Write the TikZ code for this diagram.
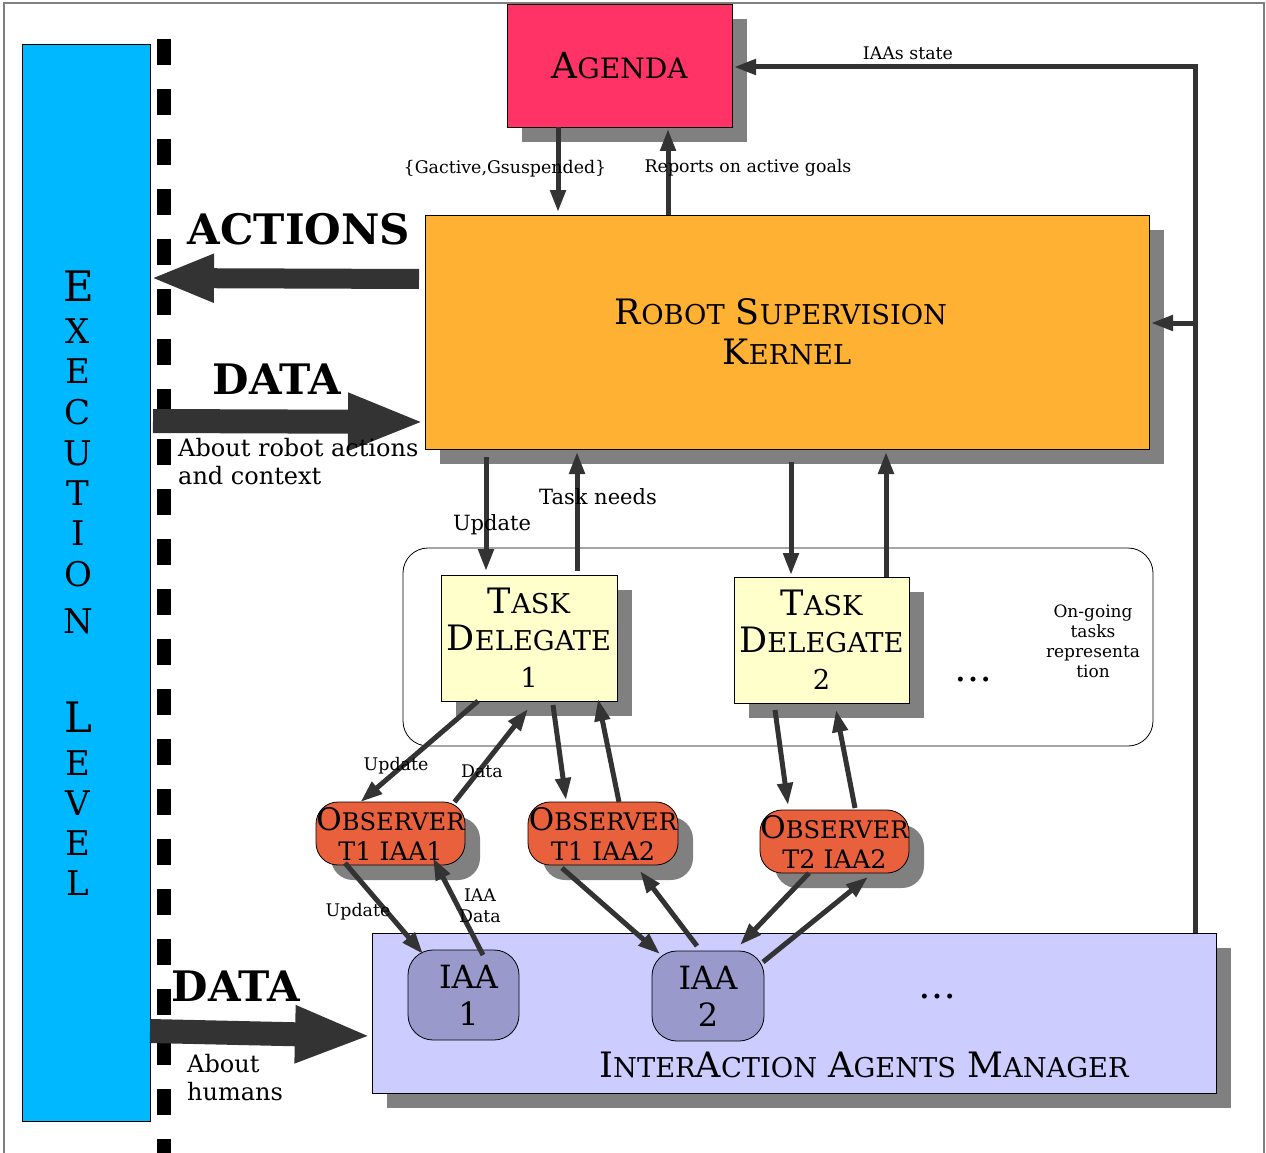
\documentclass[tikz,border=0pt]{standalone}
\usepackage{graphicx}
\usepackage{fontspec}
\setmainfont{DejaVu Serif}
\usetikzlibrary{arrows.meta,shadows}

\definecolor{agendared}{RGB}{255,51,102}
\definecolor{kernelorange}{RGB}{255,177,51}
\definecolor{execblue}{RGB}{0,184,255}
\definecolor{taskyellow}{RGB}{255,255,204}
\definecolor{obsred}{RGB}{233,97,60}
\definecolor{iamblue}{RGB}{204,204,255}
\definecolor{iaablue}{RGB}{153,153,204}
\definecolor{darkline}{RGB}{51,51,51}
\definecolor{shadowgray}{RGB}{128,128,128}

\newcommand{\smallcap}[2]{#1\scalebox{0.78}{#2}}

\tikzset{
  block/.style={draw=black, line width=0.8pt, inner sep=0pt, outer sep=0pt, align=center},
  shadowed/.style={drop shadow={shadow xshift=15pt, shadow yshift=-15pt, fill=shadowgray, opacity=1}},
  flowarrow/.style={draw=darkline, line width=5pt, -{Triangle[length=22pt,width=15pt]}},
  widearrow/.style={draw=darkline, line width=20pt, -{Triangle[length=64pt,width=44pt]}},
  widerarrow/.style={draw=darkline, line width=24pt, -{Triangle[length=77pt,width=52pt]}},
  smallnote/.style={font=\fontsize{17.4}{21}\selectfont, inner sep=0pt, align=center},
  midnote/.style={font=\fontsize{21}{25}\selectfont, inner sep=0pt},
  bignote/.style={font=\fontsize{24}{28}\selectfont, inner sep=0pt, align=left},
  headword/.style={font=\bfseries\fontsize{42}{46}\selectfont, inner sep=0pt},
  execletter/.style={font=\fontsize{34}{34}\selectfont, inner sep=0pt},
}

\begin{document}
\begin{tikzpicture}[x=1pt,y=-1pt]
\useasboundingbox (0,0) rectangle (1266,1153);

% frame and execution level
\draw[shadowgray, line width=1.5pt] (4,1170) -- (4,3) -- (1264,3) -- (1264,1170);
\draw[black, line width=14pt, dash pattern=on 26pt off 24pt] (164,39) -- (164,1160);
\node[block, fill=execblue, minimum width=128pt, minimum height=1077pt] (exec) at (86,582.5) {};
\node[execletter, font=\fontsize{42}{42}\selectfont] (lfirst) at (79,286) {E};
\node[execletter, font=\fontsize{42}{42}\selectfont] (lsecond) at (78,717) {L};
\foreach \ch/\yy [count=\i] in {X/331, E/371, C/412, U/453, T/493, I/533, O/574, N/621, E/763, V/803, E/843, L/883}
  \node[execletter] (letter\i) at (78,\yy) {\ch};

% boxes
\node[block, shadowed, fill=agendared, minimum width=225pt, minimum height=123pt,
  font=\fontsize{36}{40}\selectfont] (agenda) at (619.5,65.5) {\smallcap{A}{GENDA}};
\node[block, shadowed, fill=kernelorange, minimum width=724pt, minimum height=234pt,
  font=\fontsize{35}{40}\selectfont] (rsk) at (787,332)
  {\smallcap{R}{OBOT} \smallcap{S}{UPERVISION}\hspace*{12pt}\\\smallcap{K}{ERNEL}};
\node[draw=black, line width=0.8pt, rounded corners=25pt, minimum width=750pt, minimum height=198pt] (ongoing) at (778,647) {};
\node[block, shadowed, fill=taskyellow, minimum width=176pt, minimum height=126pt,
  font=\fontsize{35}{37}\selectfont] (td1) at (529,638) {\smallcap{T}{ASK}\\\smallcap{D}{ELEGATE}\\\scalebox{0.78}{1}};
\node[block, shadowed, fill=taskyellow, minimum width=175pt, minimum height=126pt,
  font=\fontsize{35}{37}\selectfont] (td2) at (821.5,640) {\smallcap{T}{ASK}\\\smallcap{D}{ELEGATE}\\\scalebox{0.78}{2}};
\node[font=\fontsize{38}{38}\selectfont, inner sep=0pt] (tddots) at (973,680) {\ldots};
\node[smallnote, font=\fontsize{17}{20}\selectfont] (ongoingnote) at (1093,641) {On-going\\tasks\\representa\\tion};

\node[block, shadowed, fill=obsred, rounded corners=22pt, minimum width=149pt, minimum height=63pt,
  font=\fontsize{31}{30}\selectfont] (obs1) at (390.5,833.5) {\smallcap{O}{BSERVER}\\\scalebox{0.82}{T1 IAA1}};
\node[block, shadowed, fill=obsred, rounded corners=22pt, minimum width=150pt, minimum height=63pt,
  font=\fontsize{31}{30}\selectfont] (obs2) at (603,833.5) {\smallcap{O}{BSERVER}\\\scalebox{0.82}{T1 IAA2}};
\node[block, shadowed, fill=obsred, rounded corners=22pt, minimum width=149pt, minimum height=63pt,
  font=\fontsize{31}{30}\selectfont] (obs3) at (834.5,841.5) {\smallcap{O}{BSERVER}\\\scalebox{0.82}{T2 IAA2}};

\node[block, shadowed, fill=iamblue, minimum width=844pt, minimum height=160pt] (iam) at (794,1013) {};
\node[block, fill=iaablue, rounded corners=25pt, minimum width=111pt, minimum height=90pt,
  font=\fontsize{32}{37}\selectfont] (iaa1) at (463.5,995) {\hspace*{10pt}IAA\\\hspace*{10pt}1};
\node[block, fill=iaablue, rounded corners=25pt, minimum width=112pt, minimum height=90pt,
  font=\fontsize{32}{37}\selectfont] (iaa2) at (708,996) {IAA\\2};
\node[font=\fontsize{38}{38}\selectfont, inner sep=0pt] (iamdots) at (937,997) {\ldots};
\node[font=\fontsize{35}{40}\selectfont, inner sep=0pt] (iamtitle) at (864,1065)
  {\smallcap{I}{NTER}\smallcap{A}{CTION} \smallcap{A}{GENTS} \smallcap{M}{ANAGER}};

% wide arrows to and from the execution level
\path[widearrow] ([xshift=-6pt]rsk.west |- 0,279) -- (exec.east |- 0,278);
\path[widerarrow] ([xshift=3pt]exec.east |- 0,421) -- (rsk.west |- 0,422);
\path[widerarrow] (exec.east |- 0,1031) -- (iam.west |- 0,1036);
\node[headword] (actions) at (299,229) {ACTIONS};
\node[headword] (dataup) at (277,379) {DATA};
\node[headword] (datalow) at (236,986) {DATA};
\node[bignote, anchor=west] (aboutrobot) at (178,462) {About robot actions\\and context};
\node[bignote, anchor=west] (abouthumans) at (187,1078) {About\\humans};

% agenda links
\path[flowarrow] (agenda.south -| 558,0) -- ([yshift=3pt]rsk.north -| 558,0);
\path[flowarrow] (rsk.north -| 668,0) -- ([yshift=-2pt]agenda.south -| 668,0);
\path[flowarrow] (iam.north -| 1195,0) |- ([xshift=2pt]agenda.east |- 0,67);
\coordinate (split) at (1195,323);
\path[flowarrow] (split) -- ([xshift=2pt]rsk.east |- split);
\node[smallnote] (goalset) at (505,169) {\{Gactive,Gsuspended\}};
\node[smallnote] (reports) at (748,168) {Reports on active goals};
\node[smallnote] (iaastate) at (908,53) {IAAs state};

% kernel and task delegates
\path[flowarrow] ([yshift=-8pt]rsk.south -| 486,0) -- ([yshift=4pt]td1.north -| 486,0);
\path[flowarrow] ([yshift=4pt]td1.north -| 577,0) -- ([yshift=-3pt]rsk.south -| 577,0);
\path[flowarrow] ([yshift=-13pt]rsk.south -| 791,0) -- ([yshift=2pt]td2.north -| 791,0);
\path[flowarrow] (td2.north -| 886,0) -- ([yshift=-3pt]rsk.south -| 886,0);
\node[midnote] (upkernel) at (492,525) {Update};
\node[midnote] (taskneeds) at (598,497) {Task needs};

% task delegates and observers
\path[flowarrow] ([xshift=-51pt]td1.south) -- ([xshift=-30pt]obs1.north);
\path[flowarrow] ([xshift=64pt]obs1.north) -- ([yshift=-8pt]td1.south -| 528,0);
\path[flowarrow] ([yshift=-4pt]td1.south -| 553,0) -- ([yshift=2pt]obs2.north -| 566,0);
\path[flowarrow] (obs2.north -| 619,0) -- ([yshift=2pt]td1.south -| 598,0);
\path[flowarrow] ([yshift=-7pt]td2.south -| 775,0) -- ([yshift=5pt]obs3.north -| 788,0);
\path[flowarrow] ([yshift=2pt]obs3.north -| 855,0) -- ([yshift=-7pt]td2.south -| 836,0);
\node[smallnote] (updateobs) at (396,766) {Update};
\node[smallnote] (dataobs) at (482,771) {Data};

% observers and interaction agents
\path[flowarrow] ([yshift=2pt]obs1.south -| 345,0) -- ([yshift=-4pt]iaa1.north -| 423,0);
\path[flowarrow] ([yshift=-5pt]iaa1.north -| 483,0) -- ([yshift=7pt]obs1.south -| 433,0);
\path[flowarrow] ([yshift=-3pt]obs2.south -| 562,0) -- ([yshift=-3pt]iaa2.north -| 660,0);
\path[flowarrow] ([yshift=5pt]iaa2.north -| 697,0) -- ([yshift=-6pt]obs2.south -| 640,0);
\path[flowarrow] (obs3.south -| 809,0) -- ([yshift=6pt]iaa2.north -| 740,0);
\path[flowarrow] ([yshift=-11pt]iaa2.north -| 763,0) -- ([yshift=-4pt]obs3.south -| 868,0);
\node[smallnote] (updateiaa) at (358,912) {Update};
\node[smallnote] (iaadata) at (480,906) {IAA\\Data};
\end{tikzpicture}
\end{document}
